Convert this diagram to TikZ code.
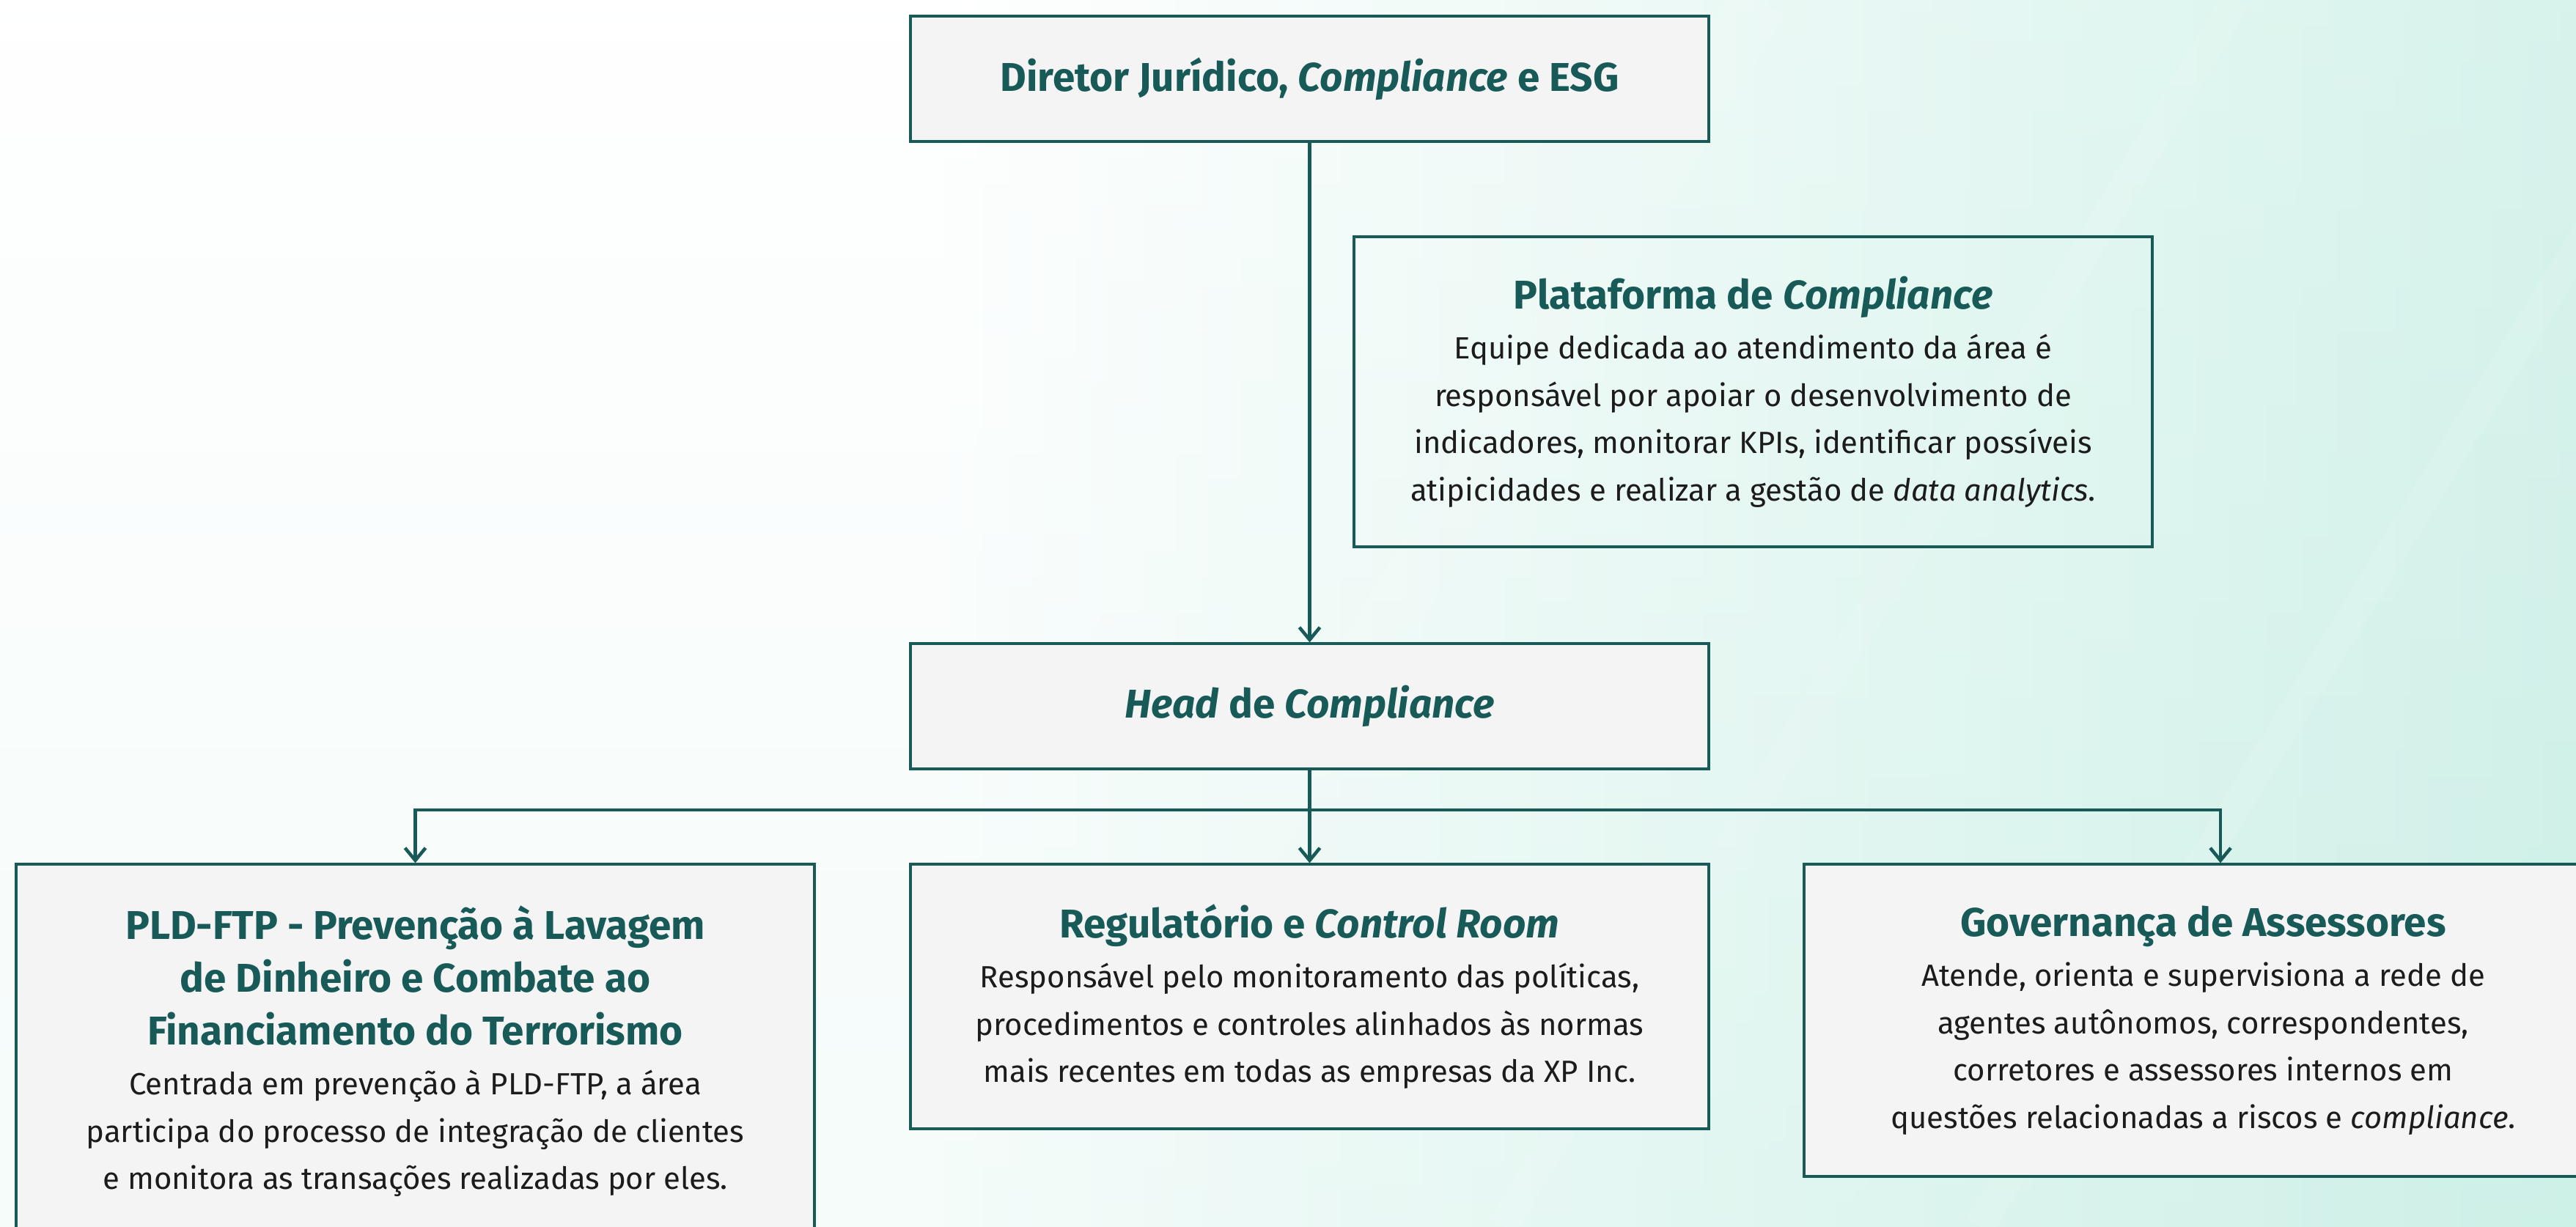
\documentclass[tikz,border=0pt]{standalone}
\usepackage{fontspec}
\setmainfont{Fira Sans}
\usetikzlibrary{arrows.meta}

\definecolor{xpteal}{HTML}{175A58}
\definecolor{boxgray}{HTML}{F4F4F4}
\definecolor{bgmint}{HTML}{CDF0E7}
\definecolor{bodyblack}{HTML}{1C1C1C}

\newcommand{\hdfont}{\fontsize{15.6}{20}\selectfont\bfseries\color{xpteal}}

% background: white on the left, mint on the right
\pgfdeclarehorizontalshading{bgshade}{100bp}{color(0bp)=(white); color(25bp)=(white); color(43bp)=(white); color(75bp)=(bgmint); color(100bp)=(bgmint)}

\begin{document}
\begin{tikzpicture}[
    orgbox/.style={draw=xpteal, line width=0.9pt, fill=boxgray, align=center,
      minimum width=10.89cm, text=bodyblack,
      font=\fontsize{11.9}{18.4}\selectfont},
    openbox/.style={orgbox, fill=none},
    conn/.style={draw=xpteal, line width=1.3pt},
    connarr/.style={conn, -{Straight Barb[length=1.7mm, width=2.8mm]}},
    streak/.style={white, line width=4mm, opacity=0.1}
  ]
        \useasboundingbox (0,0) rectangle (35.14,-16.73);
        \clip (0,0) rectangle (35.14,-16.73);

        \shade[shading=bgshade] (0,0) rectangle (35.14,-16.73);
        \shade[top color=white, bottom color=bgmint, opacity=0.2] (0,0) rectangle (35.14,-16.73);
        % faint light streaks
        \draw[streak] (20.5,-16.73) -- (30.5,0);
        \draw[streak] (27,-16.73) -- (36,-2);
        \draw[streak, line width=8mm, opacity=0.07] (14,-16.73) -- (24,0);

        % top of the chart
        \node[orgbox, minimum height=1.71cm] (dir) at (17.865,-1.075)
          {{\hdfont Diretor Jurídico, \textit{Compliance} e ESG}};
        \node[openbox, minimum height=4.23cm] (plat) at (23.915,-5.345)
          {{\hdfont Plataforma de \textit{Compliance}}\\[1pt]
           Equipe dedicada ao atendimento da área é\\
           responsável por apoiar o desenvolvimento de\\
           indicadores, monitorar KPIs, identificar possíveis\\
           atipicidades e realizar a gestão de \textit{data analytics}.};
        \node[orgbox, minimum height=1.71cm] (head) at (17.865,-9.635)
          {{\hdfont \textit{Head} de \textit{Compliance}}};

        % the three areas
        \node[orgbox, minimum height=5.11cm] (pld) at (5.665,-14.345)
          {{\hdfont PLD-FTP - Prevenção à Lavagem}\\[2pt]
           {\hdfont de Dinheiro e Combate ao}\\[2pt]
           {\hdfont Financiamento do Terrorismo}\\[1pt]
           Centrada em prevenção à PLD-FTP, a área\\
           participa do processo de integração de clientes\\
           e monitora as transações realizadas por eles.};
        \node[orgbox, minimum height=3.61cm] (reg) at (17.865,-13.595)
          {{\hdfont Regulatório e \textit{Control Room}}\\[1pt]
           Responsável pelo monitoramento das políticas,\\
           procedimentos e controles alinhados às normas\\
           mais recentes em todas as empresas da XP Inc.};
        \node[orgbox, minimum height=4.26cm] (gov) at (30.055,-13.92)
          {{\hdfont Governança de Assessores}\\[1pt]
           Atende, orienta e supervisiona a rede de\\
           agentes autônomos, correspondentes,\\
           corretores e assessores internos em\\
           questões relacionadas a riscos e \textit{compliance}.};

        \coordinate (jc) at (17.865,-11.05);
        \coordinate (jr) at (30.29,-11.05);

        \draw[connarr] (dir.south) -- (head.north);
        \draw[connarr] (head.south) -- (reg.north);
        \draw[connarr] (jc) -| (pld.north);
        \draw[connarr] (jc) -| (jr |- gov.north);
\end{tikzpicture}
\end{document}
